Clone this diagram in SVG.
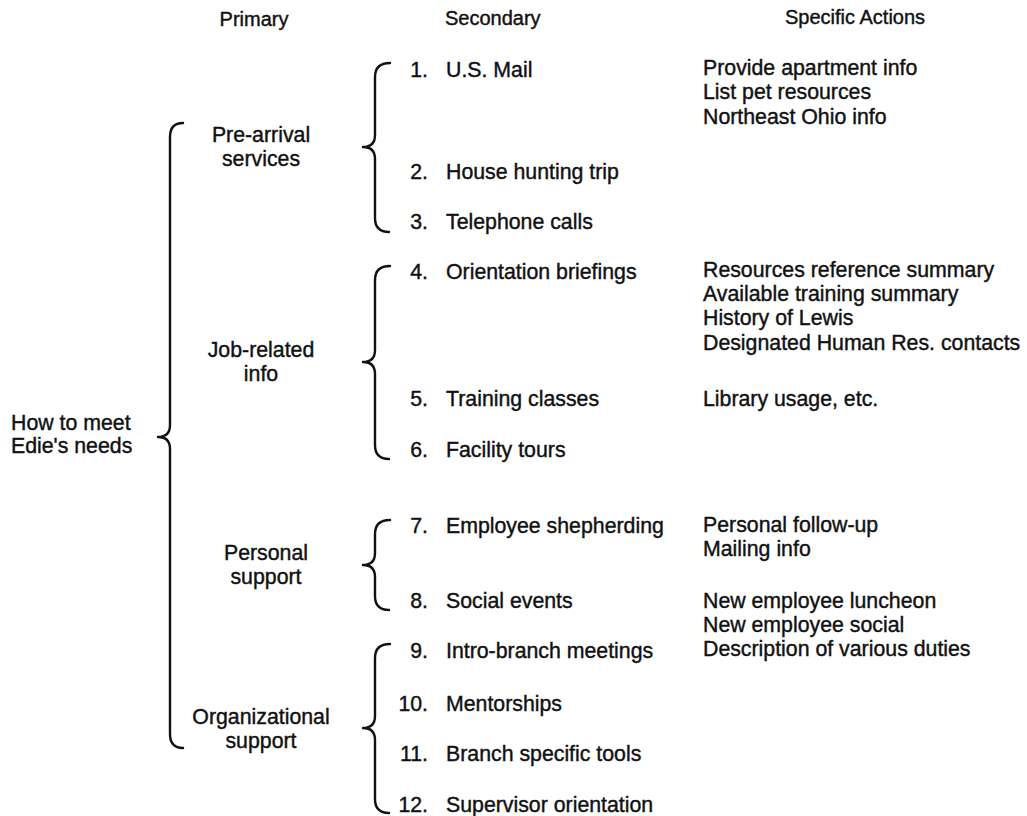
<svg xmlns="http://www.w3.org/2000/svg" width="1027" height="816" viewBox="0 0 1027 816">
<style>
text{font-family:"Liberation Sans",Arial,sans-serif;font-size:21.3px;fill:#111;stroke:#111;stroke-width:0.4}
.n{text-anchor:end}
.c{text-anchor:middle}
.h{font-size:20px}
.br{fill:none;stroke:#111;stroke-width:2.4;stroke-linecap:round;stroke-linejoin:round}
</style>
<rect width="1027" height="816" fill="#fff"/>
<g id="headers">
<text class="h c" x="254" y="26">Primary</text>
<text class="h" x="445" y="25">Secondary</text>
<text class="h" x="785" y="24">Specific Actions</text>
</g>
<g id="connectors">
<path class="br" d="M183,123 Q170,123 170,137 L170,425 Q170,437 158,437 Q170,437 170,449 L170,734 Q170,748 183,748"/>
<path class="br" d="M390,63 Q375,63 375,77 L375,135 Q375,147 363,147 Q375,147 375,159 L375,218 Q375,232 389,232"/>
<path class="br" d="M390,266 Q375,266 375,280 L375,350 Q375,362 363,362 Q375,362 375,374 L375,445 Q375,459 389,459"/>
<path class="br" d="M390,520 Q375,520 375,534 L375,553 Q375,565 363,565 Q375,565 375,577 L375,596 Q375,610 389,610"/>
<path class="br" d="M390,644 Q375,644 375,658 L375,716 Q375,728 363,728 Q375,728 375,740 L375,799 Q375,813 389,813"/>
</g>
<g id="root"><text x="11" y="430">How to meet</text><text x="11" y="453">Edie's needs</text></g>
<g id="p1"><text class="c" x="261" y="142">Pre-arrival</text><text class="c" x="261" y="166">services</text></g>
<g id="p2"><text class="c" x="261" y="357">Job-related</text><text class="c" x="261" y="381">info</text></g>
<g id="p3"><text class="c" x="266" y="560">Personal</text><text class="c" x="266" y="584">support</text></g>
<g id="p4"><text class="c" x="261" y="724">Organizational</text><text class="c" x="261" y="748">support</text></g>
<g id="s1"><text class="n" x="428" y="77">1.</text><text x="446" y="77">U.S. Mail</text></g>
<g id="s2"><text class="n" x="428" y="179">2.</text><text x="446" y="179">House hunting trip</text></g>
<g id="s3"><text class="n" x="428" y="229">3.</text><text x="446" y="229">Telephone calls</text></g>
<g id="s4"><text class="n" x="428" y="279">4.</text><text x="446" y="279">Orientation briefings</text></g>
<g id="s5"><text class="n" x="428" y="406">5.</text><text x="446" y="406">Training classes</text></g>
<g id="s6"><text class="n" x="428" y="457">6.</text><text x="446" y="457">Facility tours</text></g>
<g id="s7"><text class="n" x="428" y="533">7.</text><text x="446" y="533">Employee shepherding</text></g>
<g id="s8"><text class="n" x="428" y="608">8.</text><text x="446" y="608">Social events</text></g>
<g id="s9"><text class="n" x="428" y="658">9.</text><text x="446" y="658">Intro-branch meetings</text></g>
<g id="s10"><text class="n" x="428" y="711">10.</text><text x="446" y="711">Mentorships</text></g>
<g id="s11"><text class="n" x="428" y="761">11.</text><text x="446" y="761">Branch specific tools</text></g>
<g id="s12"><text class="n" x="428" y="812">12.</text><text x="446" y="812">Supervisor orientation</text></g>
<g id="a1"><text x="703" y="75">Provide apartment info</text><text x="703" y="99">List pet resources</text><text x="703" y="124">Northeast Ohio info</text></g>
<g id="a4"><text x="703" y="277">Resources reference summary</text><text x="703" y="301">Available training summary</text><text x="703" y="325">History of Lewis</text><text x="703" y="350">Designated Human Res. contacts</text></g>
<g id="a5"><text x="703" y="406">Library usage, etc.</text></g>
<g id="a7"><text x="703" y="532">Personal follow-up</text><text x="703" y="556">Mailing info</text></g>
<g id="a8"><text x="703" y="608">New employee luncheon</text><text x="703" y="632">New employee social</text></g>
<g id="a9"><text x="703" y="656">Description of various duties</text></g>
</svg>
